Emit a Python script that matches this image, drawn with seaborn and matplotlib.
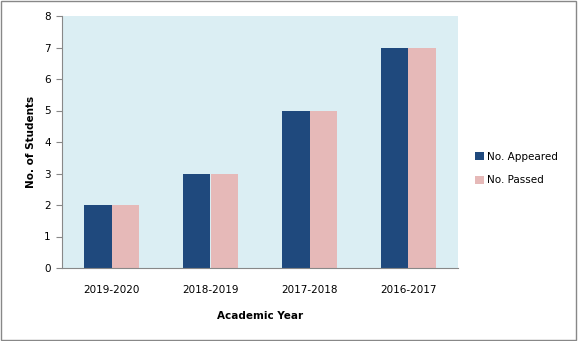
import matplotlib
matplotlib.use("Agg")
import matplotlib.pyplot as plt
import seaborn as sns
import pandas as pd
from matplotlib.patches import Rectangle

years = ["2019-2020", "2018-2019", "2017-2018", "2016-2017"]
appeared = [2, 3, 5, 7]
passed = [2, 3, 5, 7]
series = ["No. Appeared", "No. Passed"]
colors = ["#1F497D", "#E6B9B8"]

df = pd.DataFrame({
    "year": years * 2,
    "value": appeared + passed,
    "series": [series[0]] * len(years) + [series[1]] * len(years),
})

sns.set_theme(style="white")
plt.rcParams["font.family"] = ["DejaVu Sans"]
plt.rcParams["text.color"] = "black"
plt.rcParams["xtick.color"] = "black"
plt.rcParams["ytick.color"] = "black"
plt.rcParams["axes.labelcolor"] = "black"

fig = plt.figure(figsize=(5.78, 3.41), dpi=100)
ax = fig.add_axes([62/578, 1 - 268/341, (458-62)/578, (268-16)/341])
ax.set_facecolor("#DBEEF3")

sns.barplot(data=df, x="year", y="value", hue="series", palette=colors,
            width=0.56, ax=ax, saturation=1, legend=True, linewidth=0)

ax.set_ylim(0, 8)
ax.set_yticks(range(0, 9))
ax.set_xlim(-0.5, 3.5)
ax.tick_params(axis="y", length=4, width=0.8, color="#888888", labelcolor="black",
               direction="out", labelsize=7.5, pad=4, left=True)
ax.tick_params(axis="x", length=0, labelsize=7.5, pad=12, labelcolor="black")
for s in ["top", "right"]:
    ax.spines[s].set_visible(False)
for s in ["left", "bottom"]:
    ax.spines[s].set_color("#888888")
    ax.spines[s].set_linewidth(0.8)

ax.set_xlabel("Academic Year", fontsize=7.5, fontweight="bold", labelpad=12, color="black")
ax.set_ylabel("No. of Students", fontsize=7.5, fontweight="bold", labelpad=6, color="black")

leg = ax.legend(loc="center left", bbox_to_anchor=(1.02, 0.395), frameon=False,
                fontsize=7.5, handlelength=0.8, handleheight=0.8, handletextpad=0.3,
                labelspacing=1.3)
for t in leg.get_texts():
    t.set_color("black")

fig.patches.append(Rectangle((0.002, 0.003), 0.995, 0.993, transform=fig.transFigure,
                             fill=False, edgecolor="#888888", linewidth=1))

fig.savefig("out.png", dpi=100)
